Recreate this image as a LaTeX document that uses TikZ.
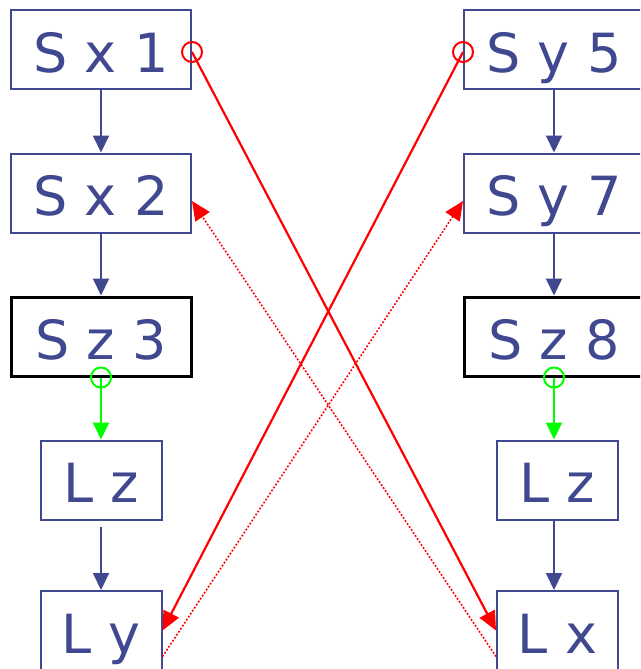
\documentclass[tikz,border=0pt]{standalone}
\usepackage{fontspec}
\setmainfont{DejaVu Sans}
\usetikzlibrary{arrows.meta, positioning}
\definecolor{navy}{RGB}{64,72,144}
\definecolor{linkred}{RGB}{255,0,0}
\definecolor{linkgreen}{RGB}{0,255,0}
\tikzstyle{slot} = [rectangle, minimum width=180pt, minimum height=79pt, text height=45pt, text depth=0pt, inner sep=0pt, draw=navy, line width=2pt, text=navy, font=\fontsize{54}{60}\selectfont]
\tikzstyle{zslot} = [slot, draw=black, line width=3pt]
\tikzstyle{lslot} = [slot, minimum width=121pt]
\tikzstyle{arrow} = [navy, line width=2pt, -{Triangle[length=17pt,width=16pt]}]
\tikzstyle{greenarrow} = [arrow, linkgreen]
\tikzstyle{cross} = [linkred, line width=2.2pt, -{Triangle[length=19pt,width=17pt]}]
\tikzstyle{crossdot} = [cross, line width=1.6pt, dash pattern=on 1.8pt off 1.8pt]
\tikzstyle{ring} = [line width=2pt]

\begin{document}
\begin{tikzpicture}[node distance=143.5pt]
    \useasboundingbox (0pt,0pt) rectangle (640pt,-669pt);
    \clip (0pt,0pt) rectangle (640pt,-669pt);

    % left column
    \node (sx1) [slot] at (101pt,-49.5pt) {S x 1};
    \node (sx2) [slot, below of=sx1] {S x 2};
    \node (sz3) [zslot, below of=sx2] {S z 3};
    \node (lzLeft) [lslot, below of=sz3] {L z};
    \node (ly) [lslot, below of=lzLeft, yshift=-7pt] {L y};

    % right column
    \node (sy5) [slot, right of=sx1, xshift=309.5pt] {S y 5};
    \node (sy7) [slot, below of=sy5] {S y 7};
    \node (sz8) [zslot, below of=sy7] {S z 8};
    \node (lzRight) [lslot, below of=sz8, xshift=3.5pt] {L z};
    \node (lx) [lslot, below of=lzRight, yshift=-7pt] {L x};

    \draw [arrow] (sx1) -- (sx2);
    \draw [arrow] (sx2) -- (sz3);
    \draw [greenarrow] (sz3.south) -- (lzLeft.north);
    \draw [arrow] ([yshift=-6pt]lzLeft.south) -- (ly.north);
    \draw [linkgreen, ring] (sz3.south) circle (10pt);

    \draw [arrow] (sy5.south -| sz8) -- (sy7.north -| sz8);
    \draw [arrow] (sy7.south -| sz8) -- (sz8.north);
    \draw [greenarrow] (sz8.south) -- (sz8.south |- lzRight.north);
    \draw [arrow] (sz8.south |- lzRight.south) -- (sz8.south |- lx.north);
    \draw [linkgreen, ring] (sz8.south) circle (10pt);

    % crossing links
    \draw [cross] ([yshift=-2.5pt]sx1.east) -- (lx.west);
    \draw [cross] ([yshift=-2.5pt]sy5.west) -- (ly.east);
    \draw [linkred, ring] ([yshift=-2.5pt]sx1.east) circle (10pt);
    \draw [linkred, ring] ([yshift=-2.5pt]sy5.west) circle (10pt);
    \draw [crossdot] ([yshift=-26pt]ly.east) -- ([yshift=-8pt]sy7.west);
    \draw [crossdot] ([yshift=-26pt]lx.west) -- ([yshift=-8pt]sx2.east);
\end{tikzpicture}
\end{document}
